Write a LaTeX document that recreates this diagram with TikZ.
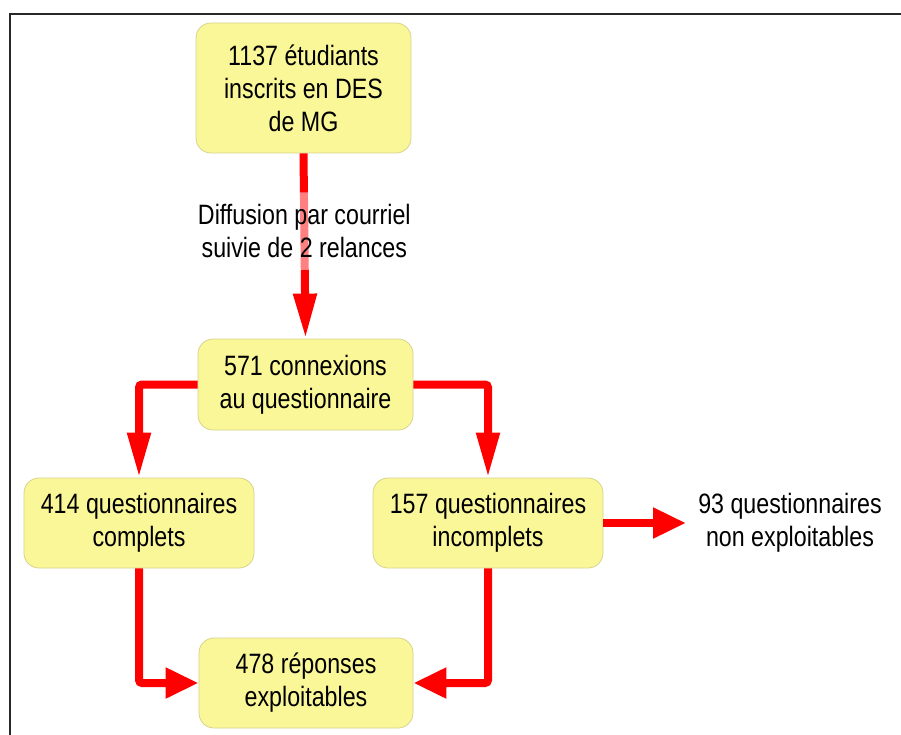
\documentclass[tikz,border=0pt]{standalone}
\usepackage{fontspec}
\setmainfont{Liberation Sans}[FakeStretch=0.83]
\usetikzlibrary{arrows.meta}
\definecolor{boxfill}{RGB}{250,247,152}
\definecolor{boxline}{RGB}{214,212,140}
\definecolor{framec}{RGB}{40,40,40}
\tikzset{
  flowbox/.style={draw=boxline, line width=0.8pt, fill=boxfill, rounded corners=15pt,
    align=center, inner sep=0pt, font=\fontsize{28}{33}\selectfont},
  plain/.style={align=center, inner sep=0pt, font=\fontsize{28}{33}\selectfont},
  lbl/.style={align=center, fill=white, fill opacity=0.5, text opacity=1,
    inner xsep=4pt, inner ysep=12pt, font=\fontsize{28}{33}\selectfont},
  conn/.style={draw=red, line width=8pt, rounded corners=3pt},
  vtip/.style={conn, -{Triangle[length=45pt,width=22pt]}},
  htip/.style={conn, -{Triangle[length=33pt,width=29pt]}},
}
\begin{document}
\begin{tikzpicture}[x=1pt,y=-1pt]
\useasboundingbox (0,0) rectangle (901,735);
\fill[white] (0,0) rectangle (901,735);
\coordinate (fa) at (10,740);
\coordinate (fb) at (10,14);
\coordinate (fc) at (906,14);
\draw[framec, line width=1.2pt] (fa) -- (fb) -- (fc);

\node[flowbox, minimum width=215pt, minimum height=130pt] (b1) at (303.5,88)
  {1137 étudiants\\inscrits en DES\\de MG};
\node[flowbox, minimum width=215pt, minimum height=91pt] (b2) at (305.5,384.5)
  {571 connexions\\au questionnaire};
\node[flowbox, minimum width=230pt, minimum height=90pt] (b3) at (139,523)
  {414 questionnaires\\complets};
\node[flowbox, minimum width=230pt, minimum height=90pt] (b4) at (488,523)
  {157 questionnaires\\incomplets};
\node[flowbox, minimum width=214pt, minimum height=90pt] (b5) at (306,683)
  {478 réponses\\exploitables};
\node[plain] (b6) at (790,523) {93 questionnaires\\non exploitables};
\coordinate (t6) at (686,523);

\draw[vtip] (b1.south) -- node[lbl, pos=0.42] {Diffusion par courriel\\suivie de 2 relances} (b2.north);
\draw[vtip] (b2.west) -| (b3.north);
\draw[vtip] (b2.east) -| (b4.north);
\draw[htip] (b3.south) |- (b5.west);
\draw[htip] (b4.south) |- (b5.east);
\draw[htip] (b4.east) -- (t6);
\end{tikzpicture}
\end{document}
